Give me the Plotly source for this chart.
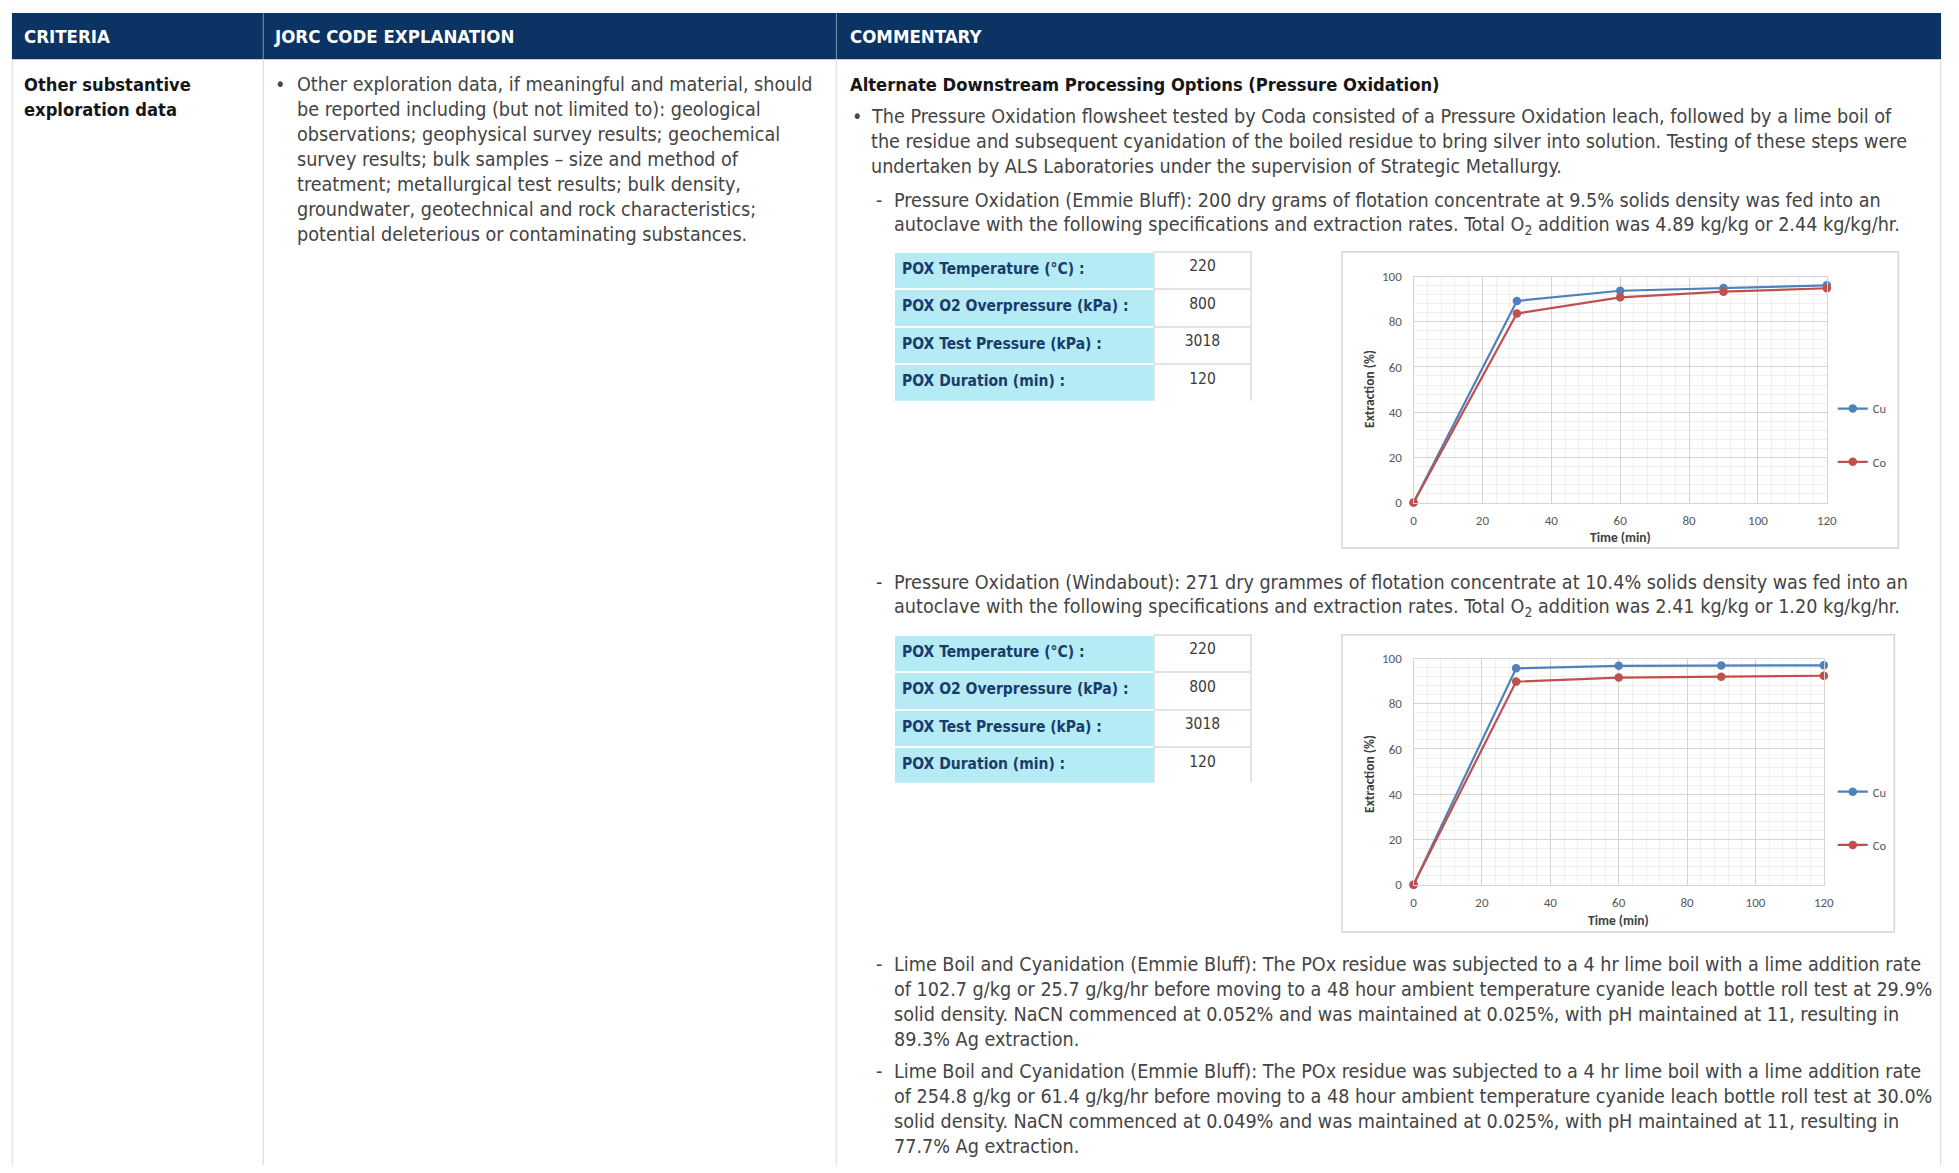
import plotly.graph_objects as go

W, H = 1959, 1173

# ---------------- data ----------------
time_min = [0, 30, 60, 90, 120]
emmie_cu = [0, 89.2, 93.7, 94.9, 96.1]
emmie_co = [0, 83.6, 90.8, 93.3, 94.8]
windabout_cu = [0, 95.7, 96.8, 96.9, 97.0]
windabout_co = [0, 89.8, 91.6, 92.0, 92.4]

x_ticks = [0, 20, 40, 60, 80, 100, 120]
y_ticks = [0, 20, 40, 60, 80, 100]

pox_labels = ["POX Temperature (°C) :", "POX O2 Overpressure (kPa) :",
              "POX Test Pressure (kPa) :", "POX Duration (min) :"]
pox_emmie = ["220", "800", "3018", "120"]
pox_windabout = ["220", "800", "3018", "120"]

header_labels = ["CRITERIA", "JORC CODE EXPLANATION", "COMMENTARY"]
criteria_lines = ["Other substantive", "exploration data"]
jorc_lines = [
    "Other exploration data, if meaningful and material, should",
    "be reported including (but not limited to): geological",
    "observations; geophysical survey results; geochemical",
    "survey results; bulk samples – size and method of",
    "treatment; metallurgical test results; bulk density,",
    "groundwater, geotechnical and rock characteristics;",
    "potential deleterious or contaminating substances.",
]
comm_heading = "Alternate Downstream Processing Options (Pressure Oxidation)"
comm_bullet = [
    "The Pressure Oxidation flowsheet tested by Coda consisted of a Pressure Oxidation leach, followed by a lime boil of",
    "the residue and subsequent cyanidation of the boiled residue to bring silver into solution. Testing of these steps were",
    "undertaken by ALS Laboratories under the supervision of Strategic Metallurgy.",
]
dash1 = [
    "Pressure Oxidation (Emmie Bluff): 200 dry grams of flotation concentrate at 9.5% solids density was fed into an",
    "autoclave with the following specifications and extraction rates. Total O<sub>2</sub> addition was 4.89 kg/kg or 2.44 kg/kg/hr.",
]
dash2 = [
    "Pressure Oxidation (Windabout): 271 dry grammes of flotation concentrate at 10.4% solids density was fed into an",
    "autoclave with the following specifications and extraction rates. Total O<sub>2</sub> addition was 2.41 kg/kg or 1.20 kg/kg/hr.",
]
dash3 = [
    "Lime Boil and Cyanidation (Emmie Bluff): The POx residue was subjected to a 4 hr lime boil with a lime addition rate",
    "of 102.7 g/kg or 25.7 g/kg/hr before moving to a 48 hour ambient temperature cyanide leach bottle roll test at 29.9%",
    "solid density. NaCN commenced at 0.052% and was maintained at 0.025%, with pH maintained at 11, resulting in",
    "89.3% Ag extraction.",
]
dash4 = [
    "Lime Boil and Cyanidation (Emmie Bluff): The POx residue was subjected to a 4 hr lime boil with a lime addition rate",
    "of 254.8 g/kg or 61.4 g/kg/hr before moving to a 48 hour ambient temperature cyanide leach bottle roll test at 30.0%",
    "solid density. NaCN commenced at 0.049% and was maintained at 0.025%, with pH maintained at 11, resulting in",
    "77.7% Ag extraction.",
]

# ---------------- styles ----------------
NARROW = "Liberation Sans Narrow, DejaVu Sans Condensed, Arial Narrow, Roboto Condensed, Roboto, sans-serif"
CHARTF = "Carlito, Calibri, Liberation Sans, Arial, sans-serif"
BODY_SIZE = 19.6
BODY_COL = "#444444"
HEAD_COL = "#161616"
NAVY = "#0b3363"
CYAN = "#b4ebf4"
CU_COL = "#4f81bd"
CO_COL = "#c0504d"
LINE_H = 25.3


def px(x):
    return x / W


def py(y):
    return 1 - y / H


annotations = []
shapes = []


def text(x, y, s, size=BODY_SIZE, color=BODY_COL, bold=False, family=NARROW, anchor="left", angle=0):
    annotations.append(dict(
        x=px(x), y=py(y), xref="paper", yref="paper", showarrow=False,
        text=f"<b>{s}</b>" if bold else s, xanchor=anchor, yanchor="middle",
        textangle=angle, font=dict(family=family, size=size, color=color)))


def para(x, y0, lines, **kw):
    for i, s in enumerate(lines):
        text(x, y0 + i * LINE_H, s, **kw)


def rect(x0, y0, x1, y1, fill=None, line=None, lw=1):
    shapes.append(dict(type="rect", xref="paper", yref="paper",
                       x0=px(x0), x1=px(x1), y0=py(y1), y1=py(y0),
                       fillcolor=fill if fill else "rgba(0,0,0,0)",
                       line=dict(color=line if line else "rgba(0,0,0,0)", width=lw if line else 0),
                       layer="below"))


def vline(x, y0, y1, color, lw=1.5):
    shapes.append(dict(type="line", xref="paper", yref="paper", x0=px(x), x1=px(x),
                       y0=py(y0), y1=py(y1), line=dict(color=color, width=lw), layer="below"))


# ---------------- page frame ----------------
rect(9, 6, 1951, 53, fill=NAVY)
for xd in (262, 839):
    vline(xd, 6, 53, "#7f93ae", 1)
for xd in (9.5, 262, 839, 1950.5):
    vline(xd, 53, 1173, "#e2e2e2", 1.5)

for xh, lab in zip((19, 271, 851), header_labels):
    text(xh, 30, lab, size=18.5, color="white", family=NARROW, bold=True)

para(19, 79, criteria_lines, bold=True, color=HEAD_COL, size=18.2)

text(272, 79, "•")
para(294, 79, jorc_lines)

text(851, 79, comm_heading, bold=True, color=HEAD_COL, size=18.2)
text(853, 111, "•")
para(872, 111, comm_bullet)
text(877, 196, "-")
para(895, 196, dash1)
text(877, 583, "-")
para(895, 583, dash2)
text(877, 970, "-")
para(895, 970, dash3)
text(877, 1078, "-")
para(895, 1078, dash4)

# chart frames
rect(1348, 248, 1908, 548, fill="white", line="#d6d6d6", lw=1.5)
rect(1348, 636, 1904, 937, fill="white", line="#d6d6d6", lw=1.5)

# ---------------- figure ----------------
fig = go.Figure()

# POX tables
for vals, (ty0, ty1) in ((pox_emmie, (248, 399)), (pox_windabout, (636, 786))):
    labs = [f"<b>{s}</b>" for s in pox_labels]
    tfont = dict(family=NARROW, size=15.5, color=["#1b3b6b", "#3a3a3a"])
    fig.add_trace(go.Table(
        domain=dict(x=[px(897), px(1257)], y=[py(ty1), py(ty0)]),
        columnwidth=[262, 98],
        header=dict(values=[labs[0], vals[0]], height=37.5,
                    fill=dict(color=[CYAN, "white"]),
                    line=dict(color=["white", "#e3e3e3"], width=2),
                    align=["left", "center"], font=tfont),
        cells=dict(values=[labs[1:], vals[1:]], height=37.5,
                   fill=dict(color=[CYAN, "white"]),
                   line=dict(color=["white", "#e3e3e3"], width=2),
                   align=["left", "center"], font=tfont),
    ))

charts = [
    dict(cu=emmie_cu, co=emmie_co, xa="x", ya="y", leg="legend",
         xd=(1420, 1836), yd=(502, 273), ytitle=387, xtitle=537, legy=392),
    dict(cu=windabout_cu, co=windabout_co, xa="x2", ya="y2", leg="legend2",
         xd=(1420, 1833), yd=(889, 660), ytitle=777, xtitle=925, legy=780),
]

layout_axes = {}
for i, c in enumerate(charts):
    fig.add_trace(go.Scatter(x=time_min, y=c["cu"], name="Cu", mode="lines+markers",
                             line=dict(color=CU_COL, width=2.2), marker=dict(size=8.5, color=CU_COL),
                             cliponaxis=False,
                             xaxis=c["xa"], yaxis=c["ya"], legend=c["leg"], legendgroup=f"cu{i}"))
    fig.add_trace(go.Scatter(x=time_min, y=c["co"], name="Co", mode="lines+markers",
                             line=dict(color=CO_COL, width=2.2), marker=dict(size=8.5, color=CO_COL),
                             cliponaxis=False,
                             xaxis=c["xa"], yaxis=c["ya"], legend=c["leg"], legendgroup=f"co{i}"))
    sfx = "" if i == 0 else "2"
    common = dict(showgrid=True, gridcolor="#d4d4d4", gridwidth=1.3, zeroline=False,
                  showline=True, mirror=True, linecolor="#d4d4d4", linewidth=1.3,
                  ticks="", tickfont=dict(family=CHARTF, size=13, color="#595959"),
                  fixedrange=True,
                  minor=dict(dtick=4, showgrid=True, gridcolor="#efefef", gridwidth=1))
    layout_axes["xaxis" + sfx] = dict(domain=[px(c["xd"][0]), px(c["xd"][1])], range=[0, 120],
                                      tickvals=x_ticks, anchor="y" + sfx, ticklabelstandoff=6, **common)
    layout_axes["yaxis" + sfx] = dict(domain=[py(c["yd"][0]), py(c["yd"][1])], range=[0, 100],
                                      tickvals=y_ticks, anchor="x" + sfx, ticklabelstandoff=8, **common)
    text((c["xd"][0] + c["xd"][1]) / 2, c["xtitle"], "Time (min)", size=13.5, color="#404040",
         bold=True, family=CHARTF, anchor="center")
    text(1375, c["ytitle"], "Extraction (%)", size=13.5, color="#404040", bold=True,
         family=CHARTF, anchor="center", angle=-90)
    layout_axes[c["leg"]] = dict(x=px(1842), y=py(c["legy"]), xanchor="left", yanchor="top",
                                 bgcolor="rgba(0,0,0,0)", tracegroupgap=34, itemwidth=30,
                                 font=dict(family=CHARTF, size=12.5, color="#595959"))

fig.update_layout(
    width=W, height=H, autosize=False,
    margin=dict(l=0, r=0, t=0, b=0, pad=0),
    paper_bgcolor="white", plot_bgcolor="white",
    showlegend=True,
    shapes=shapes, annotations=annotations,
    **layout_axes,
)

fig.write_html("out.html", config={"displayModeBar": False},
               post_script="document.body.style.margin='0';document.body.style.overflow='hidden';")
